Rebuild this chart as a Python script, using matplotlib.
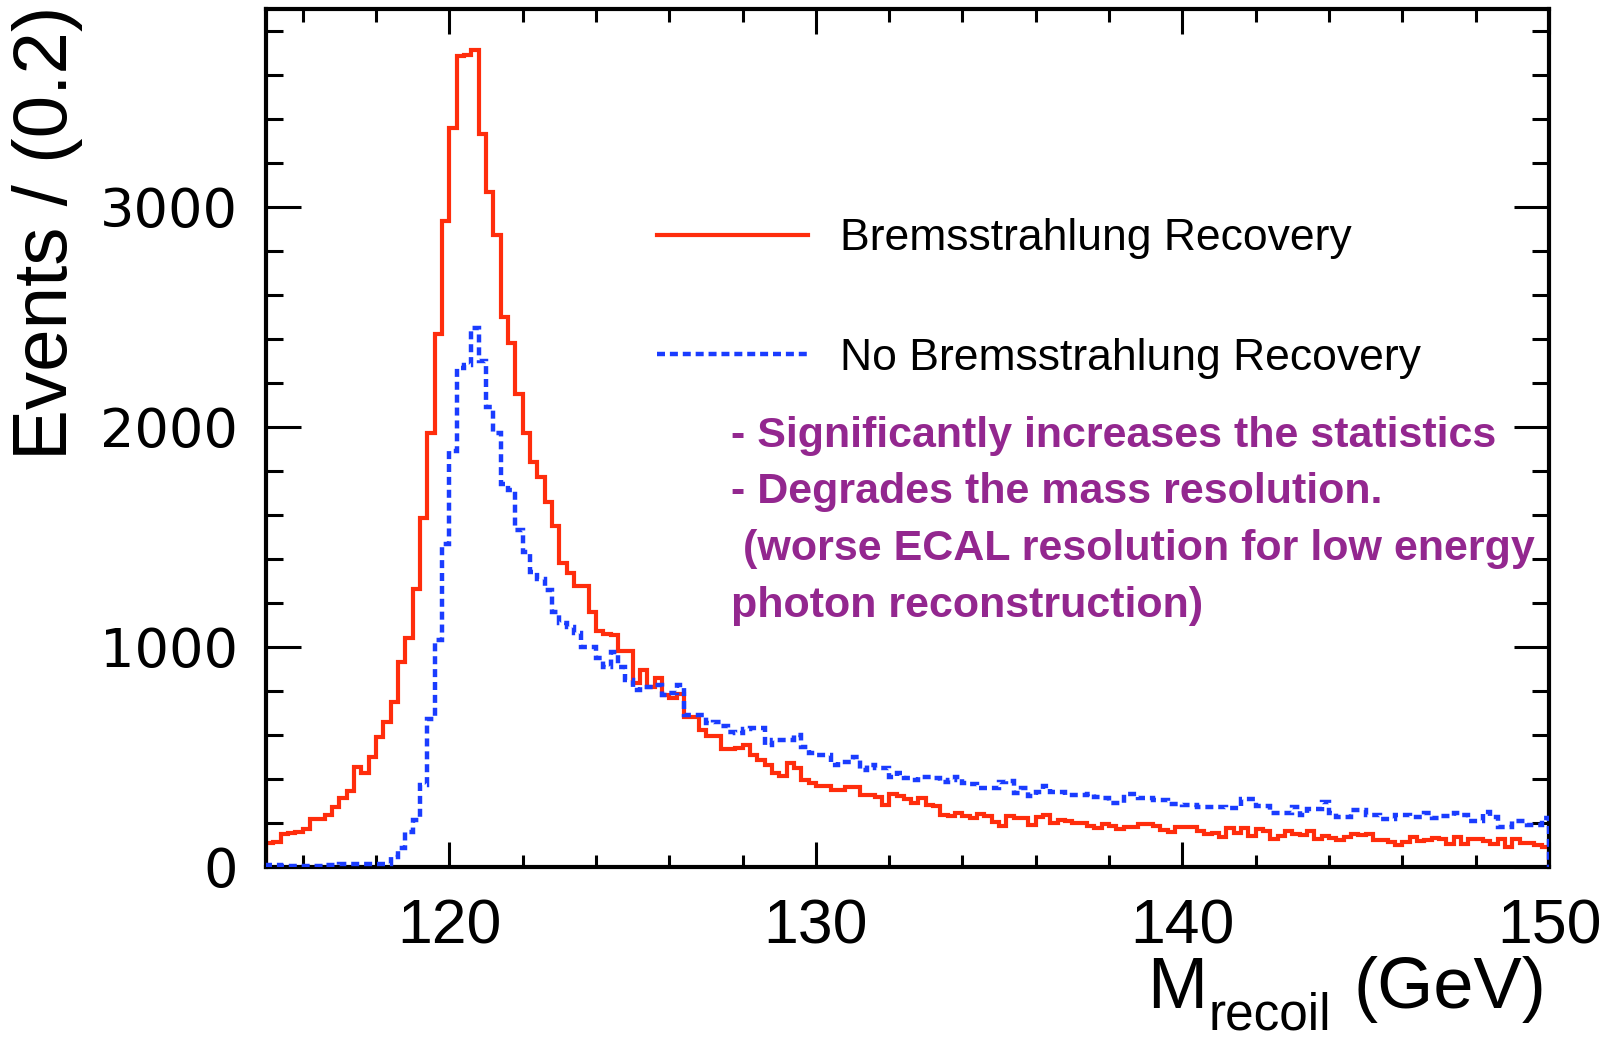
import numpy as np
import matplotlib
matplotlib.use("Agg")
import matplotlib.pyplot as plt

# ---------------- data ----------------
x_min, x_max, bin_width = 115.0, 150.0, 0.2

red_counts = [
    109, 112, 148, 154, 158, 173, 219, 219, 238, 272,
    314, 344, 456, 426, 498, 589, 661, 751, 931, 1041,
    1265, 1585, 1974, 2423, 2936, 3357, 3688, 3691, 3714, 3330,
    3070, 2873, 2501, 2380, 2150, 1974, 1842, 1775, 1660, 1550,
    1380, 1335, 1277, 1277, 1161, 1075, 1060, 1055, 983, 983,
    838, 895, 820, 857, 782, 767, 786, 683, 683, 623,
    595, 595, 535, 535, 540, 555, 509, 486, 464, 426,
    414, 471, 448, 395, 383, 368, 368, 350, 350, 365,
    365, 327, 327, 317, 282, 332, 323, 308, 289, 312,
    280, 276, 235, 230, 245, 232, 221, 241, 232, 206,
    186, 232, 221, 221, 191, 229, 236, 201, 214, 211,
    201, 201, 186, 176, 195, 186, 171, 182, 182, 197,
    195, 186, 168, 161, 180, 180, 182, 165, 150, 153,
    135, 176, 153, 178, 140, 173, 162, 127, 141, 164,
    150, 145, 162, 127, 141, 130, 123, 138, 150, 145,
    150, 123, 123, 115, 100, 115, 138, 120, 123, 130,
    127, 105, 135, 105, 127, 127, 120, 105, 127, 89,
    127, 109, 109, 100, 92,
]

blue_counts = [
    10, 10, 5, 5, 5, 5, 6, 6, 8, 10,
    12, 12, 15, 15, 15, 15, 15, 47, 85, 161,
    214, 373, 671, 1030, 1470, 1890, 2270, 2280, 2450, 2300,
    2090, 1975, 1740, 1715, 1530, 1430, 1340, 1310, 1260, 1160,
    1110, 1090, 1062, 1001, 1001, 948, 911, 979, 911, 850,
    804, 820, 820, 827, 782, 790, 827, 691, 691, 691,
    653, 660, 640, 615, 607, 626, 630, 630, 555, 578,
    578, 578, 600, 547, 517, 509, 509, 464, 479, 479,
    502, 441, 464, 448, 448, 411, 426, 403, 396, 411,
    411, 403, 385, 395, 411, 380, 376, 357, 357, 357,
    388, 392, 335, 357, 325, 343, 366, 343, 343, 327,
    327, 327, 332, 320, 312, 292, 292, 332, 332, 312,
    312, 305, 305, 286, 286, 282, 282, 274, 274, 271,
    271, 267, 267, 310, 308, 277, 277, 244, 244, 247,
    275, 236, 262, 262, 297, 244, 229, 229, 259, 259,
    236, 236, 217, 217, 236, 236, 229, 229, 244, 221,
    232, 232, 247, 236, 211, 211, 250, 229, 184, 184,
    211, 211, 191, 191, 221,
]

labels = ["Bremsstrahlung Recovery", "No Bremsstrahlung Recovery"]
notes = [
    "- Significantly increases the statistics",
    "- Degrades the mass resolution.",
    " (worse ECAL resolution for low energy",
    "photon reconstruction)",
]
x_ticks = [120, 130, 140, 150]
y_ticks = [0, 1000, 2000, 3000]

# ---------------- figure ----------------
W, H = 1610, 1038
fig = plt.figure(figsize=(W / 100, H / 100), dpi=100)
L, R, T, B = 266, 1549, 9, 867
ax = fig.add_axes([L / W, 1 - B / H, (R - L) / W, (B - T) / H])

n_bins = len(red_counts)
edges = x_min + bin_width * np.arange(n_bins + 1)

red_col = "#ff2d0c"
blue_col = "#1a3cff"
purple = "#93278f"

ax.stairs(red_counts, edges, color=red_col, linewidth=3.0, baseline=0,
          label=labels[0], zorder=2)
ax.stairs(blue_counts, edges, color=blue_col, linewidth=3.2, baseline=0,
          linestyle=(0, (1.8, 1.1)), label=labels[1], zorder=3)

ax.set_xlim(x_min, x_max)
ax.set_ylim(0, 3900)

ax.set_xticks(x_ticks)
ax.set_xticks(np.arange(116, 150, 2), minor=True)
ax.set_yticks(y_ticks)
ax.set_yticks(np.arange(0, 3900, 200), minor=True)

for sp in ax.spines.values():
    sp.set_linewidth(3.0)

ax.tick_params(which="both", direction="in", top=True, right=True, width=2.2, color="black")
ax.tick_params(axis="x", which="major", length=18, pad=22)
ax.tick_params(axis="x", which="minor", length=9)
ax.tick_params(axis="y", which="major", length=25, pad=20)
ax.tick_params(axis="y", which="minor", length=12)

ax.set_xticklabels([str(v) for v in x_ticks], fontsize=45, family="Liberation Sans")
ax.set_yticklabels([str(v) for v in y_ticks], fontsize=39, family="DejaVu Sans")

# legend
leg = ax.legend(loc="center left", bbox_to_anchor=(657 / W, 1 - 298.5 / H),
                bbox_transform=fig.transFigure, frameon=False, borderaxespad=0,
                borderpad=0, handlelength=3.4, handletextpad=0.72, labelspacing=1.76,
                prop={"family": "Liberation Sans", "size": 32})

# annotation text
note_y = [436, 492, 549, 606]
for txt, yy in zip(notes, note_y):
    fig.text(731 / W, 1 - yy / H, txt, color=purple, fontsize=31, fontweight="bold",
             family="Liberation Sans", ha="left", va="center")

# y label
fig.text(12 / W, 1 - 460 / H, "Events / (0.2)", rotation=90, fontsize=55,
         family="Liberation Sans", ha="left", va="bottom")

# x label: M_recoil (GeV), right aligned at axis end
fig.canvas.draw()
rend = fig.canvas.get_renderer()
base_y = 1 - 1008 / H
sub_y = 1 - 1030 / H
t3 = fig.text(1546 / W, base_y, "(GeV)", fontsize=52, family="Liberation Sans",
              ha="right", va="baseline")
bb3 = t3.get_window_extent(rend)
t2 = fig.text((bb3.x0 - 22) / W, sub_y, "recoil", fontsize=37, family="Liberation Sans",
              ha="right", va="baseline")
bb2 = t2.get_window_extent(rend)
t1 = fig.text((bb2.x0 - 1) / W, base_y, "M", fontsize=52, family="Liberation Sans",
              ha="right", va="baseline")

fig.savefig("out.png", dpi=100)
